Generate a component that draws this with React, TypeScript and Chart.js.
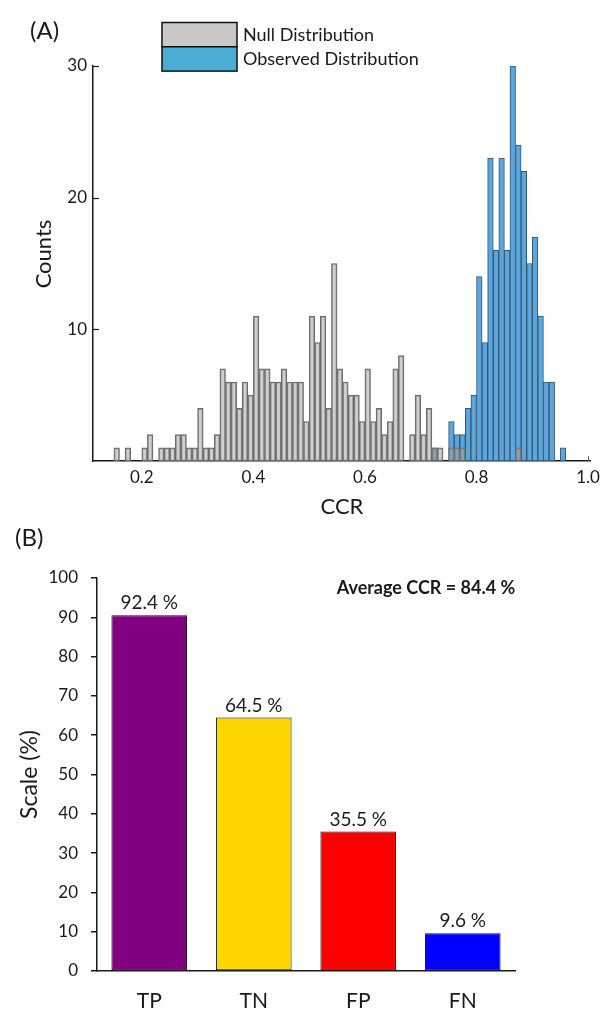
import React, { useEffect, useRef } from 'react';
import { Chart, registerables } from 'chart.js';

Chart.register(...registerables);

const FONT = 'Lato, "Open Sans", "DejaVu Sans", sans-serif';
const INK = '#1a1a1a';

// ---------------- Panel (A): CCR histograms (bins of width 0.01) ----------------
const BIN_WIDTH = 0.01;
const NULL_START = 0.15; // first bin of the null distribution
const NULL_COUNTS = [
  1, 0, 1, 0, 0, 1, 2, 0, 1, 1, // 0.15 - 0.24
  1, 2, 2, 1, 1, 4, 1, 1, 2, 7, // 0.25 - 0.34
  6, 6, 4, 6, 5, 11, 7, 7, 6, 6, // 0.35 - 0.44
  7, 6, 6, 6, 3, 11, 9, 11, 4, 15, // 0.45 - 0.54
  7, 6, 5, 5, 3, 7, 3, 4, 2, 3, // 0.55 - 0.64
  7, 8, 0, 2, 5, 2, 4, 1, 1, 0, // 0.65 - 0.74
  1, 1, 1, 0, 0, 0, 0, 0, 0, 0, // 0.75 - 0.84
  0, 0, 1, // 0.85 - 0.87
];
const OBS_START = 0.72; // first bin of the observed distribution
const OBS_COUNTS = [
  1, 0, 0, 3, 2, 2, 4, 5, 14, 9, // 0.72 - 0.81
  23, 16, 23, 16, 30, 24, 22, 15, 17, 11, // 0.82 - 0.91
  6, 6, 0, 1, // 0.92 - 0.95
];
const A_X_TICKS = [0.2, 0.4, 0.6, 0.8, 1.0];
const A_Y_TICKS = [10, 20, 30];
const A_LEGEND = ['Null Distribution', 'Observed Distribution'];

// ---------------- Panel (B): classification rates ----------------
const B_CATEGORIES = ['TP', 'TN', 'FP', 'FN'];
const B_VALUES = [90.5, 64.5, 35.5, 9.6];
const B_LABELS = ['92.4 %', '64.5 %', '35.5 %', '9.6 %'];
const B_COLORS = ['#800080', '#FFD700', '#FF0000', '#0000FF'];
const B_AVERAGE = 'Average CCR = 84.4 %';

const toPoints = (start: number, counts: number[]) =>
  counts.map((c, i) => ({
    x: Math.round((start + (i + 0.5) * BIN_WIDTH) * 10000) / 10000,
    y: c,
  }));

const NULL_GRAY = 'rgba(160,160,160,0.5)';
const OBS_BLUE = 'rgb(92,166,221)';
const LEGEND_GRAY = '#C8C8C8';
const LEGEND_BLUE = '#4BACD6';

const panelAPlugin = {
  id: 'panelA',
  beforeDatasetsDraw(chart: any) {
    const { ctx, chartArea, scales } = chart;
    ctx.save();
    ctx.strokeStyle = INK;
    ctx.lineWidth = 1.2;
    A_Y_TICKS.forEach((v) => {
      const y = Math.round(scales.y.getPixelForValue(v)) + 0.5;
      ctx.beginPath();
      ctx.moveTo(chartArea.left, y);
      ctx.lineTo(chartArea.left + 6, y);
      ctx.stroke();
    });
    ctx.lineWidth = 1;
    ctx.strokeStyle = '#666';
    A_X_TICKS.forEach((v) => {
      const x = Math.round(scales.x.getPixelForValue(v)) + 0.5;
      ctx.beginPath();
      ctx.moveTo(x, chartArea.bottom);
      ctx.lineTo(x, chartArea.bottom - 5);
      ctx.stroke();
    });
    ctx.restore();
  },
  afterDraw(chart: any) {
    const { ctx, chartArea } = chart;
    ctx.save();
    ctx.fillStyle = INK;
    ctx.textBaseline = 'middle';
    ctx.textAlign = 'left';
    ctx.font = `24px ${FONT}`;
    ctx.fillText('(A)', 30, 31);

    // legend
    const boxes = [LEGEND_GRAY, LEGEND_BLUE];
    boxes.forEach((c, i) => {
      const y = 22.5 + i * 24.3;
      ctx.fillStyle = c;
      ctx.fillRect(162, y, 75, 24.3);
      ctx.strokeStyle = '#111';
      ctx.lineWidth = 1.5;
      ctx.strokeRect(162, y, 75, 24.3);
      ctx.fillStyle = INK;
      ctx.font = `18px ${FONT}`;
      ctx.fillText(A_LEGEND[i], 243, y + 12.5);
    });

    // axis titles
    ctx.textAlign = 'center';
    ctx.font = `22px ${FONT}`;
    ctx.fillText('CCR', (chartArea.left + chartArea.right) / 2, 507);
    ctx.translate(44, 254);
    ctx.rotate(-Math.PI / 2);
    ctx.fillText('Counts', 0, 0);
    ctx.restore();
  },
};

const panelBPlugin = {
  id: 'panelB',
  afterDatasetsDraw(chart: any) {
    const { ctx } = chart;
    const meta = chart.getDatasetMeta(0);
    ctx.save();
    ctx.fillStyle = INK;
    ctx.textAlign = 'center';
    ctx.textBaseline = 'middle';
    ctx.font = `19px ${FONT}`;
    meta.data.forEach((bar: any, i: number) => {
      ctx.fillText(B_LABELS[i], bar.x, bar.y - 12);
    });
    ctx.restore();
  },
  afterDraw(chart: any) {
    const { ctx, chartArea } = chart;
    ctx.save();
    ctx.fillStyle = INK;
    ctx.textBaseline = 'middle';
    ctx.textAlign = 'left';
    ctx.font = `24px ${FONT}`;
    ctx.fillText('(B)', 15, 18);
    ctx.textAlign = 'center';
    ctx.font = `bold 18px ${FONT}`;
    ctx.fillText(B_AVERAGE, 426, 68);
    ctx.font = `23px ${FONT}`;
    ctx.translate(30, (chartArea.top + chartArea.bottom) / 2);
    ctx.rotate(-Math.PI / 2);
    ctx.fillText('Scale (%)', 0, 0);
    ctx.restore();
  },
};

export default function App() {
  const refA = useRef<HTMLCanvasElement | null>(null);
  const refB = useRef<HTMLCanvasElement | null>(null);

  useEffect(() => {
    Chart.defaults.font.family = FONT;
    Chart.defaults.color = INK;

    const chartA = new Chart(refA.current as HTMLCanvasElement, {
      type: 'bar',
      data: {
        datasets: [
          {
            label: A_LEGEND[0],
            data: toPoints(NULL_START, NULL_COUNTS),
            backgroundColor: NULL_GRAY,
            borderColor: '#6a6a6a',
            borderWidth: 1,
            borderSkipped: false,
            order: 0,
          },
          {
            label: A_LEGEND[1],
            data: toPoints(OBS_START, OBS_COUNTS),
            backgroundColor: OBS_BLUE,
            borderColor: '#34556f',
            borderWidth: 1,
            borderSkipped: false,
            order: 1,
          },
        ],
      } as any,
      options: {
        animation: false,
        responsive: false,
        maintainAspectRatio: false,
        grouped: false,
        barPercentage: 1,
        categoryPercentage: 1,
        layout: { padding: { top: 66, left: 0, right: 13, bottom: 0 } },
        plugins: { legend: { display: false }, tooltip: { enabled: false } },
        scales: {
          x: {
            type: 'linear',
            offset: false,
            min: 0.1125,
            max: 1.005,
            grid: { display: false, drawTicks: false, offset: false },
            border: { display: true, color: INK, width: 1.5 },
            ticks: {
              font: { size: 17 },
              color: INK,
              padding: 6,
              maxRotation: 0,
              callback: (v: any) => Number(v).toFixed(1),
            },
            afterBuildTicks: (s: any) => {
              s.ticks = A_X_TICKS.map((v) => ({ value: v }));
            },
            afterFit: (s: any) => {
              s.height = 59;
            },
          },
          y: {
            min: 0,
            max: 30,
            grid: { display: false, drawTicks: false },
            border: { display: true, color: INK, width: 1.5 },
            ticks: { font: { size: 17 }, color: INK, padding: 6 },
            afterBuildTicks: (s: any) => {
              s.ticks = A_Y_TICKS.map((v) => ({ value: v }));
            },
            afterFit: (s: any) => {
              s.width = 93;
            },
          },
        },
      } as any,
      plugins: [panelAPlugin],
    });

    const chartB = new Chart(refB.current as HTMLCanvasElement, {
      type: 'bar',
      data: {
        labels: B_CATEGORIES,
        datasets: [
          {
            data: B_VALUES,
            backgroundColor: B_COLORS,
            borderColor: '#111',
            borderWidth: 1,
            borderSkipped: false,
            barPercentage: 0.724,
            categoryPercentage: 1,
          },
        ],
      },
      options: {
        animation: false,
        responsive: false,
        maintainAspectRatio: false,
        layout: { padding: { top: 58, left: 0, right: 91, bottom: 0 } },
        plugins: { legend: { display: false }, tooltip: { enabled: false } },
        scales: {
          x: {
            grid: { display: false, drawTicks: false },
            border: { display: true, color: INK, width: 1.5 },
            ticks: { font: { size: 21 }, color: INK, padding: 18 },
            afterFit: (s: any) => {
              s.height = 41;
            },
          },
          y: {
            min: 0,
            max: 100,
            grid: {
              display: true,
              drawOnChartArea: false,
              drawTicks: true,
              tickLength: 6,
              color: INK,
              lineWidth: 1.5,
            },
            border: { display: true, color: INK, width: 1.5 },
            ticks: { stepSize: 10, font: { size: 17 }, color: INK, padding: 13 },
            afterFit: (s: any) => {
              s.width = 97;
            },
          },
        },
      } as any,
      plugins: [panelBPlugin],
    });

    return () => {
      chartA.destroy();
      chartB.destroy();
    };
  }, []);

  return (
    <div
      style={{
        position: 'absolute',
        left: 0,
        top: 0,
        width: 606,
        height: 1012,
        background: '#fff',
        overflow: 'hidden',
      }}
    >
      <canvas
        ref={refA}
        width={606}
        height={520}
        style={{ position: 'absolute', left: 0, top: 0, width: 606, height: 520 }}
      />
      <canvas
        ref={refB}
        width={606}
        height={492}
        style={{ position: 'absolute', left: 0, top: 520, width: 606, height: 492 }}
      />
    </div>
  );
}
